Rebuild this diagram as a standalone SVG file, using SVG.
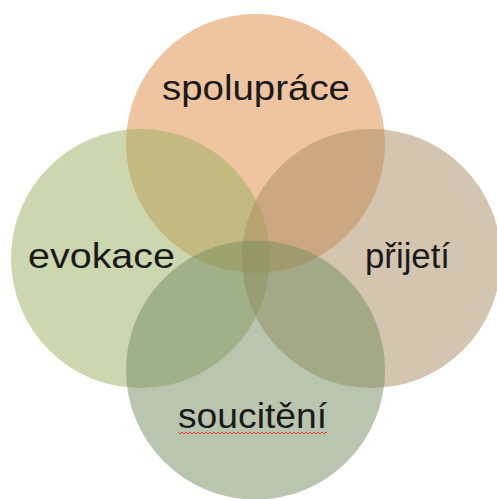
<svg xmlns="http://www.w3.org/2000/svg" width="497" height="499" viewBox="0 0 497 499">
<style>
.c{fill-opacity:0.5}
.t{font-family:"Liberation Sans","DejaVu Sans",sans-serif;font-size:35px;fill:#1a1a1a;text-anchor:middle}
</style>
<rect width="497" height="499" fill="#ffffff"/>
<g id="spolupráce">
<circle class="c" cx="255.5" cy="143.5" r="129.5" fill="#DF8941"/>
</g>
<g id="evokace">
<circle class="c" cx="140.5" cy="258.5" r="129.5" fill="#99AF61"/>
</g>
<g id="přijetí">
<circle class="c" cx="371.5" cy="258.5" r="129.5" fill="#A78B61"/>
</g>
<g id="soucitění">
<circle class="c" cx="255.5" cy="370" r="129.5" fill="#738B5D"/>
</g>
<g id="labels">
<text class="t" x="256" y="100" textLength="188" lengthAdjust="spacingAndGlyphs">spolupráce</text>
<text class="t" x="101.5" y="268" textLength="147" lengthAdjust="spacingAndGlyphs">evokace</text>
<text class="t" x="407.5" y="268" textLength="85" lengthAdjust="spacingAndGlyphs">přijetí</text>
<text class="t" x="252.5" y="428" textLength="149" lengthAdjust="spacingAndGlyphs">soucitění</text>
<polyline fill="none" stroke="#e8403a" stroke-width="1" points="178,432 180,434 182,432 184,434 186,432 188,434 190,432 192,434 194,432 196,434 198,432 200,434 202,432 204,434 206,432 208,434 210,432 212,434 214,432 216,434 218,432 220,434 222,432 224,434 226,432 228,434 230,432 232,434 234,432 236,434 238,432 240,434 242,432 244,434 246,432 248,434 250,432 252,434 254,432 256,434 258,432 260,434 262,432 264,434 266,432 268,434 270,432 272,434 274,432 276,434 278,432 280,434 282,432 284,434 286,432 288,434 290,432 292,434 294,432 296,434 298,432 300,434 302,432 304,434 306,432 308,434 310,432 312,434 314,432 316,434 318,432 320,434 322,432 324,434 326,432 327,433"/>
</g>
</svg>
